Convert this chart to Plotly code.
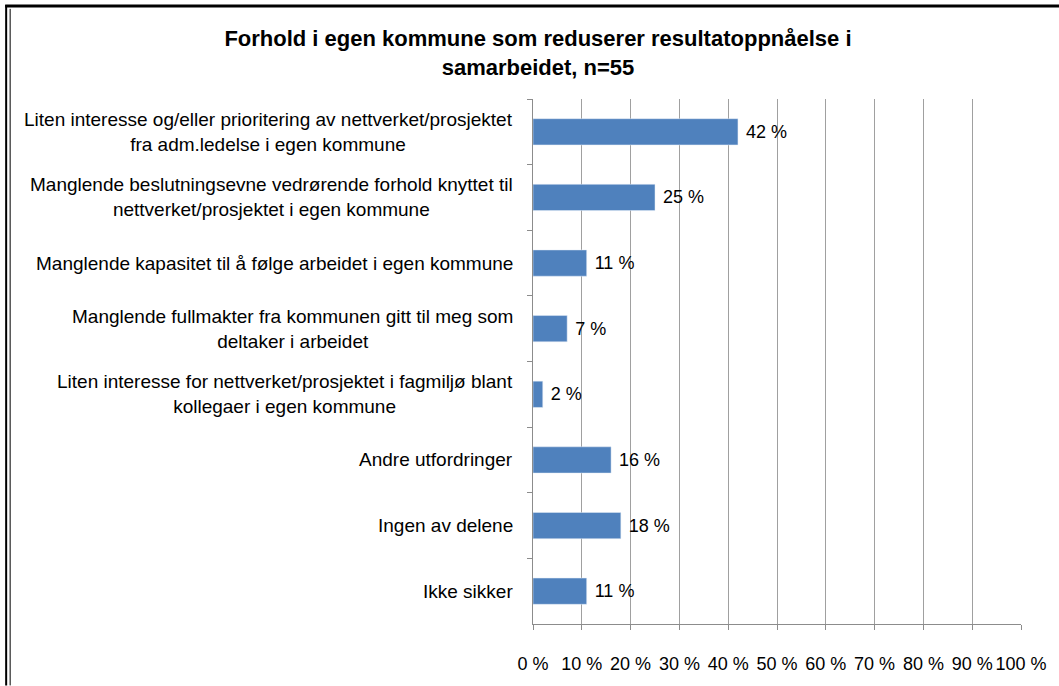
import plotly.graph_objects as go

# data
categories = [
    "Liten interesse og/eller prioritering av nettverket/prosjektet<br>fra adm.ledelse i egen kommune",
    "Manglende beslutningsevne vedrørende forhold knyttet til<br>nettverket/prosjektet i egen kommune",
    "Manglende kapasitet til å følge arbeidet i egen kommune",
    "Manglende fullmakter fra kommunen gitt til meg som<br>deltaker i arbeidet",
    "Liten interesse for nettverket/prosjektet i fagmiljø blant<br>kollegaer i egen kommune",
    "Andre utfordringer",
    "Ingen av delene",
    "Ikke sikker",
]
values = [42, 25, 11, 7, 2, 16, 18, 11]
value_labels = [f"{v} %" for v in values]
title = "Forhold i egen kommune som reduserer resultatoppnåelse i<br>samarbeidet, n=55"

FONT = "Liberation Sans, Arial"
W, H = 1059, 686
L, R, T, B = 533, 1023, 99, 629


def px_x(p):
    return (p - L) / (R - L)


def px_y(p):
    return (B - p) / (B - T)


fig = go.Figure()

fig.add_bar(
    x=values,
    y=categories,
    orientation="h",
    marker_color="#4F81BD",
    text=value_labels,
    texttemplate="\u00a0%{text}",
    textposition="outside",
    textfont=dict(family=FONT, size=18, color="black"),
    cliponaxis=False,
)

# category labels, centred per block
for cat in categories:
    fig.add_annotation(
        x=0, xref="paper", y=cat, yref="y",
        text=cat, showarrow=False,
        xanchor="right", xshift=-18, align="center",
        font=dict(family=FONT, size=19, color="black"),
    )

# frame of the embedded chart
fig.add_shape(type="line", xref="paper", yref="paper",
              x0=px_x(3), x1=px_x(W + 5), y0=px_y(5), y1=px_y(5),
              line=dict(color="black", width=3))
fig.add_shape(type="line", xref="paper", yref="paper",
              x0=px_x(4), x1=px_x(4), y0=px_y(4), y1=px_y(H + 5),
              line=dict(color="black", width=2))
fig.add_shape(type="line", xref="paper", yref="paper",
              x0=px_x(8), x1=px_x(8), y0=px_y(8), y1=px_y(H + 5),
              line=dict(color="black", width=1))

fig.update_layout(
    width=W, height=H,
    margin=dict(l=L, r=W - R, t=T, b=H - B),
    paper_bgcolor="white", plot_bgcolor="white",
    showlegend=False,
    bargap=0.6,
    title=dict(
        text=f"<b>{title}</b>",
        x=0.508, xref="container", xanchor="center",
        y=1 - 46 / H, yref="container", yanchor="top",
        font=dict(family=FONT, size=22, color="black"),
    ),
    font=dict(family=FONT, size=18, color="black"),
)

fig.update_xaxes(
    range=[0, 100], dtick=10, ticksuffix=" %",
    showgrid=True, gridcolor="#A0A0A0", gridwidth=1,
    showline=True, linecolor="#8C8C8C", linewidth=1,
    ticks="outside", ticklen=5, tickcolor="#8C8C8C",
    ticklabelstandoff=18, zeroline=False,
    tickfont=dict(family=FONT, size=18, color="black"),
)
fig.update_yaxes(
    autorange="reversed", showticklabels=False,
    showline=True, linecolor="#8C8C8C", linewidth=1,
    ticks="outside", ticklen=5, tickcolor="#8C8C8C",
    tickson="boundaries", showgrid=False,
)

fig.write_html("out.html", config={"displayModeBar": False},
               post_script="document.body.style.margin='0';")
